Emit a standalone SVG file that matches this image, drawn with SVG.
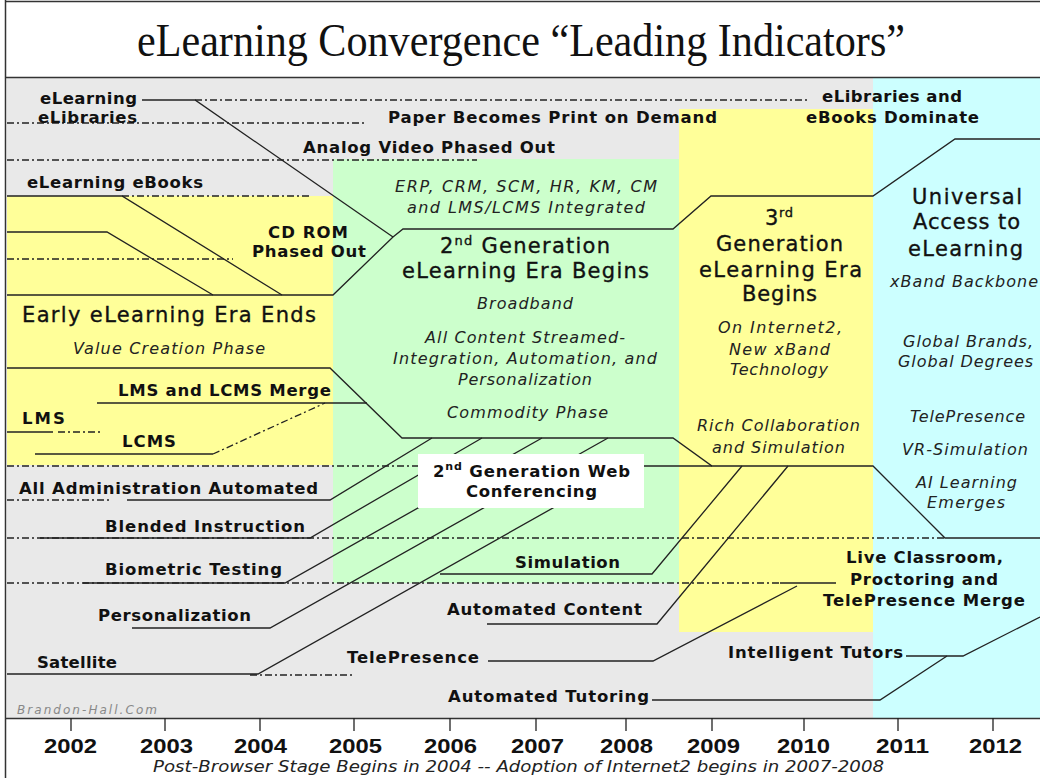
<svg xmlns="http://www.w3.org/2000/svg" width="1040" height="778" viewBox="0 0 1040 778">
  <style>
    .b { font-family: "DejaVu Sans", Verdana, sans-serif; font-weight: bold; font-size: 16.5px; fill: #111; }
    .h { font-family: "DejaVu Sans", Verdana, sans-serif; font-size: 21px; fill: #111; stroke: #111; stroke-width: 0.35px; }
    .i { font-family: "DejaVu Sans", Verdana, sans-serif; font-style: italic; font-size: 16px; fill: #222; }
    .sup { font-size: 13px; }
    .supb { font-size: 11px; }
    .yr { font-family: "Liberation Sans", Arial, sans-serif; font-weight: bold; font-size: 21px; fill: #111; }
    .s { fill: none; stroke: #222; stroke-width: 1.3; }
    .d { fill: none; stroke: #222; stroke-width: 1.3; stroke-dasharray: 7 3 2 3; }
    .frame { fill: none; stroke: #333; stroke-width: 1.5; }
  </style>

  <!-- page and era bands -->
  <rect x="0" y="0" width="1040" height="778" fill="#ffffff"/>
  <rect x="7" y="78" width="1033" height="640" fill="#e9e9e9"/>
  <rect x="7" y="196" width="326" height="269" fill="#ffff99"/>
  <rect x="333" y="159" width="346" height="424" fill="#ccffcc"/>
  <rect x="679" y="109" width="194" height="523" fill="#ffff99"/>
  <rect x="873" y="78" width="167" height="640" fill="#ccffff"/>

  <!-- frame and axis -->
  <g id="frame">
    <line class="frame" x1="5.5" y1="0" x2="5.5" y2="778"/>
    <line class="frame" x1="5" y1="1.5" x2="1040" y2="1.5"/>
    <line class="frame" x1="5" y1="77.5" x2="1040" y2="77.5"/>
    <line class="frame" x1="5" y1="718.5" x2="1040" y2="718.5"/>
    <path class="s" d="M71,718V731M165,718V731M260,718V731M354,718V731M450,718V731M536,718V731M626,718V731M712,718V731M804,718V731M898,718V731M993,718V731"/>
  </g>

  <text id="title" x="137" y="56" textLength="768" lengthAdjust="spacingAndGlyphs" font-family="'Liberation Serif', 'Times New Roman', serif" font-size="46" fill="#111">eLearning Convergence “Leading Indicators”</text>

  <!-- connectors -->
  <g id="connectors">
    <!-- dash-dot guide lines -->
    <path class="d" d="M195,100H808"/>
    <path class="d" d="M7,123H365"/>
    <path class="d" d="M7,160H477"/>
    <path class="d" d="M122,196H310"/>
    <path class="d" d="M7,259H233"/>
    <path class="d" d="M58,432H100"/>
    <path class="d" d="M213,454L325,403"/>
    <path class="d" d="M7,466H418"/>
    <path class="d" d="M7,500H110"/>
    <path class="d" d="M7,538H945"/>
    <path class="d" d="M7,583H780"/>
    <path class="d" d="M250,675H355"/>

    <!-- era boundaries -->
    <path class="s" d="M7,295H333L393,237L403,229H673L711,196H873L955,139H1040"/>
    <path class="s" d="M7,368H330L402,438H673L712,466H873L945,538H1040"/>
    <path class="s" d="M142,100H195L393,237"/>
    <path class="s" d="M7,196H122L282,295"/>
    <path class="s" d="M7,232H107L213,295"/>

    <!-- LMS / LCMS -->
    <path class="s" d="M97,403H367"/>
    <path class="s" d="M7,432H53"/>
    <path class="s" d="M35,454H213"/>

    <!-- feeders into the 2nd generation era -->
    <path class="s" d="M127,500H330L432,438"/>
    <path class="s" d="M40,538H310L482,438"/>
    <path class="s" d="M83,583H285L542,438"/>
    <path class="s" d="M132,628H270L608,438"/>
    <path class="s" d="M7,674H258L560,504"/>

    <!-- feeders into the 3rd generation era -->
    <path class="s" d="M644,466H712"/>
    <path class="s" d="M440,574H652L742,466"/>
    <path class="s" d="M487,624H657L788,466"/>
    <path class="s" d="M488,661H653L797,586"/>
    <path class="s" d="M780,583H836"/>

    <!-- tutoring -->
    <path class="s" d="M652,700H880L947,656"/>
    <path class="s" d="M906,656H963L1040,617"/>
  </g>

  <!-- top-band indicators -->
  <g id="n-elearning"><text class="b" x="40" y="104" textLength="97">eLearning</text></g>
  <g id="n-elibraries"><text class="b" x="38" y="123" textLength="99">eLibraries</text></g>
  <g id="n-paper"><text class="b" x="388" y="123" textLength="329">Paper Becomes Print on Demand</text></g>
  <g id="n-analog"><text class="b" x="303" y="153" textLength="252">Analog Video Phased Out</text></g>
  <g id="n-dominate">
    <text class="b" x="822" y="102" textLength="140">eLibraries and</text>
    <text class="b" x="806" y="123" textLength="173">eBooks Dominate</text>
  </g>
  <g id="n-ebooks"><text class="b" x="27" y="188" textLength="176">eLearning eBooks</text></g>
  <g id="n-cdrom">
    <text class="b" x="268" y="238" textLength="80">CD ROM</text>
    <text class="b" x="252" y="257" textLength="114">Phased Out</text>
  </g>

  <!-- early era -->
  <g id="n-early">
    <text class="h" x="22" y="322" textLength="294">Early eLearning Era Ends</text>
    <text class="i" x="73" y="354" textLength="192">Value Creation Phase</text>
  </g>
  <g id="n-lms-merge"><text class="b" x="118" y="396" textLength="213">LMS and LCMS Merge</text></g>
  <g id="n-lms"><text class="b" x="22" y="424" textLength="43">LMS</text></g>
  <g id="n-lcms"><text class="b" x="122" y="447" textLength="54">LCMS</text></g>

  <!-- second generation era -->
  <g id="n-second-gen">
    <text class="i" x="395" y="192" textLength="262">ERP, CRM, SCM, HR, KM, CM</text>
    <text class="i" x="407" y="213" textLength="238">and LMS/LCMS Integrated</text>
    <text class="h" x="440" y="253" textLength="170">2<tspan class="sup" dy="-8">nd</tspan><tspan dy="8"> Generation</tspan></text>
    <text class="h" x="402" y="278" textLength="247">eLearning Era Begins</text>
    <text class="i" x="477" y="309" textLength="96">Broadband</text>
    <text class="i" x="425" y="343" textLength="200">All Content Streamed-</text>
    <text class="i" x="393" y="364" textLength="264">Integration, Automation, and</text>
    <text class="i" x="458" y="385" textLength="134">Personalization</text>
    <text class="i" x="447" y="418" textLength="161">Commodity Phase</text>
  </g>

  <g id="n-web-conf">
    <rect x="418" y="454" width="226" height="54" fill="#ffffff"/>
    <text class="b" x="433" y="477" textLength="197">2<tspan class="supb" dy="-7">nd</tspan><tspan dy="7"> Generation Web</tspan></text>
    <text class="b" x="466" y="497" textLength="131">Conferencing</text>
  </g>

  <!-- lower-band indicators -->
  <g id="n-admin"><text class="b" x="19" y="494" textLength="299">All Administration Automated</text></g>
  <g id="n-blended"><text class="b" x="105" y="532" textLength="200">Blended Instruction</text></g>
  <g id="n-biometric"><text class="b" x="105" y="575" textLength="177">Biometric Testing</text></g>
  <g id="n-personalization"><text class="b" x="98" y="621" textLength="153">Personalization</text></g>
  <g id="n-satellite"><text class="b" x="37" y="668" textLength="80">Satellite</text></g>
  <g id="n-simulation"><text class="b" x="515" y="568" textLength="105">Simulation</text></g>
  <g id="n-auto-content"><text class="b" x="447" y="615" textLength="195">Automated Content</text></g>
  <g id="n-telepresence"><text class="b" x="347" y="663" textLength="132">TelePresence</text></g>
  <g id="n-auto-tutoring"><text class="b" x="448" y="702" textLength="201">Automated Tutoring</text></g>

  <!-- third generation era -->
  <g id="n-third-gen">
    <text class="h" x="765" y="225" textLength="28">3<tspan class="sup" dy="-8">rd</tspan></text>
    <text class="h" x="716" y="251" textLength="127">Generation</text>
    <text class="h" x="699" y="277" textLength="163">eLearning Era</text>
    <text class="h" x="742" y="301" textLength="75">Begins</text>
    <text class="i" x="718" y="333" textLength="124">On Internet2,</text>
    <text class="i" x="729" y="355" textLength="101">New xBand</text>
    <text class="i" x="730" y="375" textLength="98">Technology</text>
    <text class="i" x="697" y="431" textLength="163">Rich Collaboration</text>
    <text class="i" x="712" y="453" textLength="133">and Simulation</text>
  </g>

  <!-- universal access era -->
  <g id="n-universal">
    <text class="h" x="912" y="204" textLength="110">Universal</text>
    <text class="h" x="913" y="229" textLength="107">Access to</text>
    <text class="h" x="908" y="256" textLength="115">eLearning</text>
    <text class="i" x="890" y="287" textLength="148">xBand Backbone</text>
    <text class="i" x="903" y="347" textLength="130">Global Brands,</text>
    <text class="i" x="898" y="367" textLength="135">Global Degrees</text>
    <text class="i" x="910" y="422" textLength="115">TelePresence</text>
    <text class="i" x="902" y="455" textLength="126">VR-Simulation</text>
    <text class="i" x="916" y="488" textLength="101">AI Learning</text>
    <text class="i" x="927" y="508" textLength="78">Emerges</text>
  </g>
  <g id="n-live-classroom">
    <text class="b" x="846" y="563" textLength="157">Live Classroom,</text>
    <text class="b" x="850" y="585" textLength="148">Proctoring and</text>
    <text class="b" x="823" y="606" textLength="202">TelePresence Merge</text>
  </g>
  <g id="n-intelligent"><text class="b" x="728" y="658" textLength="175">Intelligent Tutors</text></g>

  <text id="credit" class="i" x="17" y="714" textLength="140" style="font-size:12px;fill:#888">Brandon-Hall.Com</text>

  <!-- years -->
  <g id="years">
    <text class="yr" x="44" y="753" textLength="53" lengthAdjust="spacingAndGlyphs">2002</text>
    <text class="yr" x="140" y="753" textLength="53" lengthAdjust="spacingAndGlyphs">2003</text>
    <text class="yr" x="234" y="753" textLength="53" lengthAdjust="spacingAndGlyphs">2004</text>
    <text class="yr" x="329" y="753" textLength="53" lengthAdjust="spacingAndGlyphs">2005</text>
    <text class="yr" x="424" y="753" textLength="53" lengthAdjust="spacingAndGlyphs">2006</text>
    <text class="yr" x="511" y="753" textLength="53" lengthAdjust="spacingAndGlyphs">2007</text>
    <text class="yr" x="600" y="753" textLength="53" lengthAdjust="spacingAndGlyphs">2008</text>
    <text class="yr" x="687" y="753" textLength="53" lengthAdjust="spacingAndGlyphs">2009</text>
    <text class="yr" x="777" y="753" textLength="53" lengthAdjust="spacingAndGlyphs">2010</text>
    <text class="yr" x="876" y="753" textLength="53" lengthAdjust="spacingAndGlyphs">2011</text>
    <text class="yr" x="969" y="753" textLength="53" lengthAdjust="spacingAndGlyphs">2012</text>
  </g>
  <text id="caption" class="i" x="153" y="772" textLength="731" lengthAdjust="spacingAndGlyphs" style="font-size:16.5px">Post-Browser Stage Begins in 2004 -- Adoption of Internet2 begins in 2007-2008</text>
</svg>
